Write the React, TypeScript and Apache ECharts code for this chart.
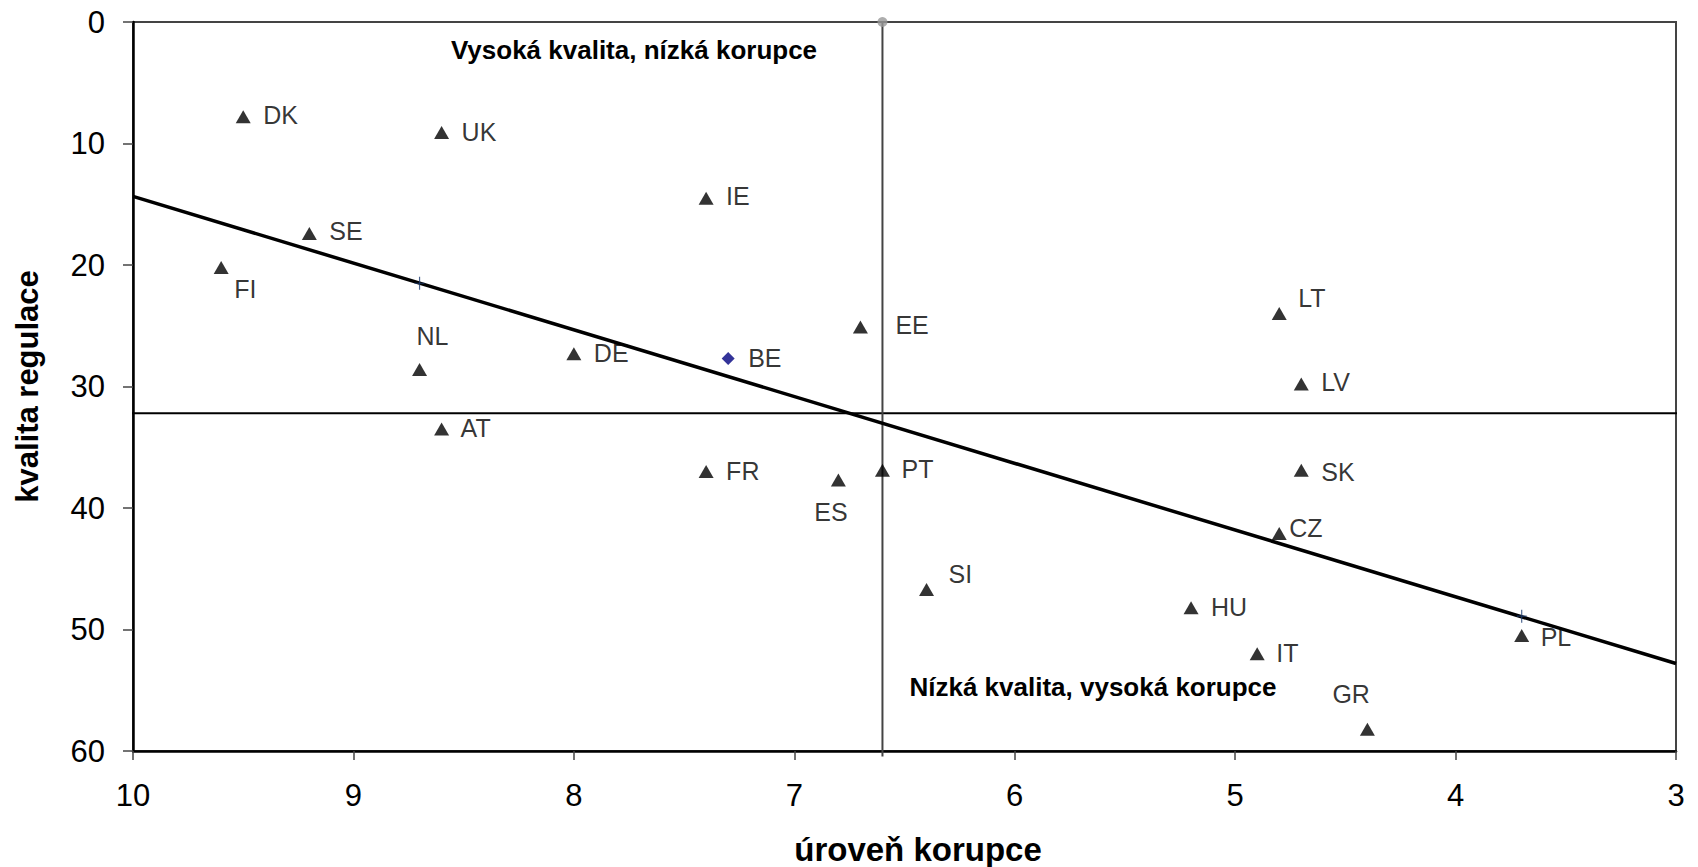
import React, { useEffect, useRef } from "react";
import * as echarts from "echarts";

// ---- data ----
const countries = ["DK", "UK", "IE", "SE", "FI", "LT", "EE", "DE", "NL", "LV", "AT", "FR", "ES", "PT", "SK", "CZ", "SI", "HU", "IT", "GR", "PL"];
const corruption = [9.5, 8.6, 7.4, 9.2, 9.6, 4.8, 6.7, 8.0, 8.7, 4.7, 8.6, 7.4, 6.8, 6.6, 4.7, 4.8, 6.4, 5.2, 4.9, 4.4, 3.7];
const regulation = [7.8, 9.1, 14.5, 17.4, 20.2, 24.0, 25.1, 27.3, 28.6, 29.8, 33.5, 37.0, 37.7, 36.9, 36.9, 42.1, 46.7, 48.2, 52.0, 58.2, 50.5];

const beNames = ["BE"];
const beCorruption = [7.3];
const beRegulation = [27.7];

const trendX = [10, 3];
const trendY = [14.35, 52.8];
const trendMarkX = [8.7, 3.7];
const trendMarkY = [21.5, 48.9];

const hDividerX = [10.03, 2.96];
const hDividerY = [32.2, 32.2];
const vDividerX = [6.6, 6.6];
const vDividerY = [0, 60.45];

const xMin = 3, xMax = 10, xStep = 1;
const yMin = 0, yMax = 60, yStep = 10;

const xTitle = "úroveň korupce";
const yTitle = "kvalita regulace";
const topNote = "Vysoká kvalita, nízká korupce";
const bottomNote = "Nízká kvalita, vysoká korupce";

// ---- label placement (style) ----
const labelOffsets: Record<string, [number, number]> = {
  DK: [20, -2], UK: [20, -1], IE: [20, -2], SE: [20, -2], FI: [13, 22],
  LT: [19, -16], EE: [35, -2], DE: [20, -1], NL: [-3, -33], LV: [20, -2],
  AT: [19, -1], FR: [20, -1], ES: [-24, 32], PT: [19, -1], SK: [20, 2],
  CZ: [10, -6], SI: [22, -15], HU: [20, -1], IT: [19, -1], GR: [-35, -35],
  PL: [19, 1], BE: [20, -1],
};

const FONT = "'Liberation Sans', Arial, sans-serif";

function pts(xs: number[], ys: number[]) {
  return xs.map((x, i) => [x, ys[i]]);
}

export default function App() {
  const ref = useRef<HTMLDivElement>(null);
  useEffect(() => {
    document.body.style.margin = "0";
    const chart = echarts.init(ref.current!, null, { renderer: "svg" });
    const labelFor = (name: string) => ({
      show: true,
      position: "inside" as const,
      align: "left" as const,
      verticalAlign: "middle" as const,
      offset: labelOffsets[name] || [20, 0],
      formatter: name,
      color: "#000",
      fontSize: 25,
      fontFamily: FONT,
    });
    chart.setOption({
      animation: false,
      backgroundColor: "#fff",
      grid: {
        left: 133, right: 22, top: 22, bottom: 116,
        outerBoundsMode: "none", containLabel: false,
        show: true, borderColor: "#444", borderWidth: 2,
      },
      xAxis: {
        type: "value", inverse: true, min: xMin, max: xMax, interval: xStep,
        name: xTitle, nameLocation: "middle", nameGap: 82,
        nameTextStyle: { fontSize: 33, fontWeight: "bold", color: "#000", fontFamily: FONT, padding: [0, 0, 0, 27] },
        axisLine: { show: true, onZero: false, lineStyle: { color: "#000", width: 2.5 } },
        axisTick: { show: true, inside: false, length: 9, lineStyle: { color: "#444", width: 1.5 } },
        axisLabel: { color: "#000", fontSize: 31, fontFamily: FONT, margin: 29 },
        splitLine: { show: false },
      },
      yAxis: {
        type: "value", inverse: true, min: yMin, max: yMax, interval: yStep,
        name: yTitle, nameLocation: "middle", nameGap: 90, nameRotate: 90,
        nameTextStyle: { fontSize: 31, fontWeight: "bold", color: "#000", fontFamily: FONT },
        axisLine: { show: true, onZero: false, lineStyle: { color: "#000", width: 2.5 } },
        axisTick: { show: true, inside: false, length: 10, lineStyle: { color: "#444", width: 1.5 } },
        axisLabel: { color: "#000", fontSize: 31, fontFamily: FONT, margin: 28 },
        splitLine: { show: false },
      },
      graphic: [
        {
          type: "text", x: 634, y: 50, z: 10,
          style: { text: topNote, fill: "#000", font: `bold 26px ${FONT}`, textAlign: "center", textVerticalAlign: "middle" },
        },
        {
          type: "text", x: 1093, y: 687, z: 10,
          style: { text: bottomNote, fill: "#000", font: `bold 26px ${FONT}`, textAlign: "center", textVerticalAlign: "middle" },
        },
      ],
      series: [
        {
          type: "line", data: pts(hDividerX, hDividerY), clip: false, silent: true,
          showSymbol: false, lineStyle: { color: "#000", width: 2 }, z: 1,
        },
        {
          type: "line", data: pts(vDividerX, vDividerY), clip: false, silent: true,
          showSymbol: false, lineStyle: { color: "#444", width: 2 }, z: 1,
        },
        {
          type: "scatter", data: [pts(vDividerX, vDividerY)[0]], symbol: "circle", symbolSize: 10,
          itemStyle: { color: "#999" }, clip: false, z: 2,
        },
        {
          type: "line", data: pts(trendX, trendY), showSymbol: false, clip: false,
          lineStyle: { color: "#000", width: 3.5 }, z: 3,
        },
        {
          type: "scatter", data: pts(trendMarkX, trendMarkY),
          symbol: "path://M4.4,0h1.2v13h-1.2z M0,5.9h10v1.2h-10z", symbolSize: [10, 13],
          itemStyle: { color: "#1F3F73" }, z: 4,
        },
        {
          type: "scatter",
          data: countries.map((c, i) => ({ name: c, value: [corruption[i], regulation[i]], label: labelFor(c) })),
          symbol: "triangle", symbolSize: [15, 13],
          itemStyle: { color: "#000" }, z: 5,
        },
        {
          type: "scatter",
          data: beNames.map((c, i) => ({ name: c, value: [beCorruption[i], beRegulation[i]], label: labelFor(c) })),
          symbol: "diamond", symbolSize: 13,
          itemStyle: { color: "#000080" }, z: 5,
        },
      ],
    });
    return () => chart.dispose();
  }, []);
  return <div ref={ref} style={{ width: 1698, height: 867 }} />;
}
